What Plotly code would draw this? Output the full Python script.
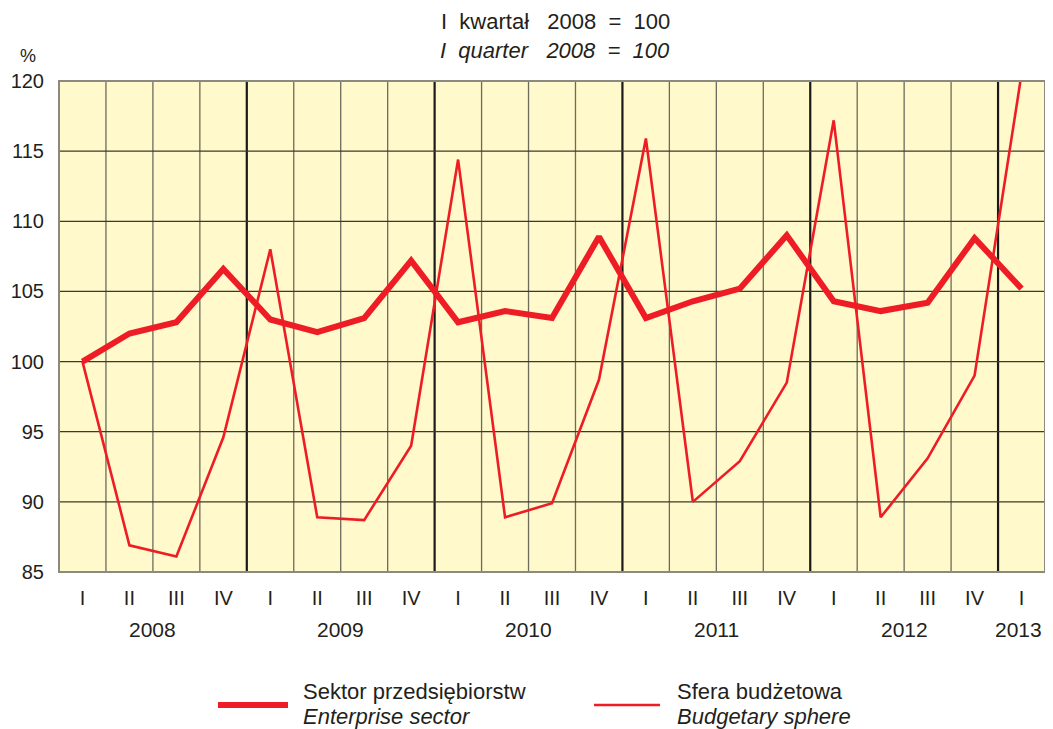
import plotly.graph_objects as go

quarters = ["I", "II", "III", "IV"] * 5 + ["I"]
years = ["2008", "2009", "2010", "2011", "2012", "2013"]
enterprise = [100, 102, 102.8, 106.6, 103, 102.1, 103.1, 107.2, 102.8, 103.6, 103.1,
              108.9, 103.1, 104.3, 105.2, 109, 104.3, 103.6, 104.2, 108.8, 105.2]
budgetary = [100, 86.9, 86.1, 94.6, 108, 88.9, 88.7, 94.0, 114.4, 88.9, 89.9,
             98.7, 115.9, 90.0, 92.9, 98.5, 117.2, 88.9, 93.1, 99.0, 120.5]
y_ticks = [85, 90, 95, 100, 105, 110, 115, 120]

RED = "#EE1D25"
TXT = "#231f20"
FONT = "Liberation Sans, Arial, sans-serif"
OFF = 8  # page body margin
W, H = 1045, 721
L, R, T, B = 51, 8, 73, 157
pw, ph = W - L - R, H - T - B

def px(x):
    return (x - OFF - L) / pw

def py(y):
    return (H - B - (y - OFF)) / ph

NB = "\u00a0"

xs = list(range(len(quarters)))
fig = go.Figure()
fig.add_trace(go.Scatter(x=xs, y=budgetary, mode="lines", line=dict(color=RED, width=2.6),
                         showlegend=False, cliponaxis=True))
fig.add_trace(go.Scatter(x=xs, y=enterprise, mode="lines", line=dict(color=RED, width=6),
                         showlegend=False, cliponaxis=True))

shapes = []
for i in range(1, len(quarters)):
    xb = i - 0.5
    is_year = (i % 4 == 0)
    shapes.append(dict(type="line", xref="x", yref="paper", x0=xb, x1=xb, y0=0, y1=1,
                       line=dict(color="#1a1a1a" if is_year else "#6b6b5e", width=2.2 if is_year else 1.3),
                       layer="below"))
for v in y_ticks[1:-1]:
    shapes.append(dict(type="line", xref="paper", yref="y", x0=0, x1=1, y0=v, y1=v,
                       line=dict(color="#3a3a30", width=1.3), layer="below"))
shapes.append(dict(type="rect", xref="paper", yref="paper", x0=0, x1=1, y0=0, y1=1,
                   line=dict(color="#8a8a80", width=2), layer="above"))
shapes.append(dict(type="line", xref="paper", yref="paper", x0=px(218), x1=px(288), y0=py(705), y1=py(705),
                   line=dict(color=RED, width=6)))
shapes.append(dict(type="line", xref="paper", yref="paper", x0=px(594), x1=px(660), y0=py(705), y1=py(705),
                   line=dict(color=RED, width=2.6)))

annotations = []

def ann(text, x, y, size, xanchor="center"):
    annotations.append(dict(text=text, x=px(x), y=py(y), xref="paper", yref="paper", showarrow=False,
                            font=dict(size=size, color=TXT, family=FONT), xanchor=xanchor, yanchor="middle"))

for k, yr in enumerate(years):
    idx = [i for i in range(len(quarters)) if i // 4 == k]
    cx = sum(idx) / len(idx)
    if yr == "2013":
        cx = idx[0] - 0.06
    annotations.append(dict(text=yr, x=cx, xref="x", y=py(629), yref="paper", showarrow=False,
                            font=dict(size=21, color=TXT, family=FONT), xanchor="center", yanchor="middle"))

ann(f"I{NB}{NB}kwartał{NB}{NB}{NB}2008{NB}{NB}={NB}{NB}100", 555, 22, 22)
ann(f"<i>I{NB}{NB}quarter{NB}{NB}{NB}2008{NB}{NB}={NB}{NB}100</i>", 555, 51, 22)
ann("%", 28, 56, 18)
ann("Sektor przedsiębiorstw", 301, 692, 22, "left")
ann("<i>Enterprise sector</i>", 301, 716, 22, "left")
ann("Sfera budżetowa", 675, 692, 22, "left")
ann("<i>Budgetary sphere</i>", 675, 716, 22, "left")

fig.update_layout(
    width=W, height=H,
    margin=dict(l=L, r=R, t=T, b=B, autoexpand=False),
    paper_bgcolor="white",
    plot_bgcolor="#FFF9CB",
    shapes=shapes,
    annotations=annotations,
    xaxis=dict(range=[-0.5, len(quarters) - 0.5], tickvals=xs, ticktext=quarters, showgrid=False,
               zeroline=False, ticks="", ticklabelstandoff=12, automargin=False,
               tickfont=dict(size=20, color=TXT, family=FONT), fixedrange=True),
    yaxis=dict(range=[85, 120], tickvals=y_ticks, showgrid=False, zeroline=False, ticks="",
               automargin=False,
               tickfont=dict(size=20, color=TXT, family=FONT), ticklabelstandoff=14, fixedrange=True),
)

fig.write_html("out.html")
